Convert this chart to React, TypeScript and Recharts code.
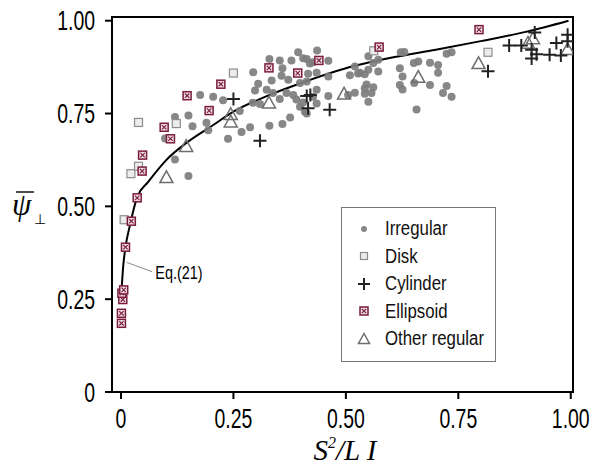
import React from "react";
import {
  ComposedChart,
  XAxis,
  YAxis,
  Scatter,
  Line,
  Legend,
  ReferenceArea,
  ReferenceLine,
  ReferenceDot,
} from "recharts";

const FONT = "'Liberation Sans', 'DejaVu Sans', sans-serif";
const SERIF = "'Liberation Serif', 'DejaVu Serif', serif";

// tick positions on both axes
const xTicks = [0, 0.25, 0.5, 0.75, 1];
const yTicks = [0, 0.25, 0.5, 0.75, 1];

// [S^2/LI, psi]
const irregular: [number, number][] = [
  [0.098, 0.683], [0.12, 0.741], [0.12, 0.626], [0.15, 0.582], [0.15, 0.745], [0.159, 0.716],
  [0.176, 0.8], [0.19, 0.725], [0.194, 0.705], [0.205, 0.795], [0.227, 0.786], [0.238, 0.682],
  [0.264, 0.757], [0.268, 0.7], [0.287, 0.713], [0.293, 0.779], [0.309, 0.776], [0.294, 0.861],
  [0.298, 0.812], [0.305, 0.83], [0.33, 0.717], [0.33, 0.897], [0.335, 0.839], [0.338, 0.805],
  [0.324, 0.814], [0.353, 0.893], [0.353, 0.789], [0.357, 0.852], [0.359, 0.872], [0.359, 0.722],
  [0.368, 0.805], [0.372, 0.841], [0.376, 0.739], [0.379, 0.893], [0.383, 0.8], [0.39, 0.788],
  [0.394, 0.915], [0.398, 0.832], [0.398, 0.768], [0.405, 0.78], [0.405, 0.899], [0.409, 0.755],
  [0.413, 0.897], [0.413, 0.836], [0.413, 0.75], [0.416, 0.857], [0.42, 0.885], [0.427, 0.888],
  [0.427, 0.795], [0.435, 0.86], [0.435, 0.814], [0.435, 0.777], [0.436, 0.92], [0.461, 0.892],
  [0.461, 0.85], [0.461, 0.797], [0.505, 0.8], [0.509, 0.853], [0.52, 0.877], [0.527, 0.858],
  [0.52, 0.806], [0.531, 0.86], [0.542, 0.856], [0.55, 0.868], [0.55, 0.904], [0.561, 0.886],
  [0.572, 0.895], [0.572, 0.863], [0.542, 0.818], [0.546, 0.828], [0.561, 0.821], [0.542, 0.803],
  [0.557, 0.805], [0.55, 0.782], [0.622, 0.915], [0.63, 0.916], [0.62, 0.872], [0.626, 0.85],
  [0.62, 0.827], [0.626, 0.815], [0.651, 0.886], [0.661, 0.89], [0.652, 0.832], [0.687, 0.887],
  [0.705, 0.881], [0.705, 0.86], [0.687, 0.827], [0.724, 0.824], [0.716, 0.805], [0.735, 0.795],
  [0.724, 0.911], [0.735, 0.915], [0.657, 0.761],
];

const disk: [number, number][] = [
  [0.007, 0.464], [0.022, 0.588], [0.039, 0.608], [0.039, 0.726], [0.123, 0.723],
  [0.25, 0.859], [0.562, 0.919], [0.816, 0.915],
];

const cylinder: [number, number][] = [
  [0.25, 0.789], [0.309, 0.677], [0.413, 0.797], [0.421, 0.8], [0.416, 0.764], [0.464, 0.76],
  [0.816, 0.864], [0.863, 0.933], [0.89, 0.933], [0.92, 0.968], [0.913, 0.922], [0.913, 0.898],
  [0.924, 0.91], [0.953, 0.908], [0.968, 0.94], [0.978, 0.906], [0.993, 0.945], [0.993, 0.962],
];

const ellipsoid: [number, number][] = [
  [0.001, 0.185], [0.001, 0.212], [0.004, 0.249], [0.002, 0.266], [0.006, 0.275], [0.01, 0.39],
  [0.023, 0.46], [0.036, 0.523], [0.047, 0.595], [0.048, 0.638], [0.096, 0.713], [0.11, 0.682],
  [0.147, 0.798], [0.196, 0.758], [0.222, 0.829], [0.329, 0.873], [0.393, 0.859], [0.44, 0.893],
  [0.574, 0.929], [0.796, 0.976],
];

const otherRegular: [number, number][] = [
  [0.101, 0.578], [0.145, 0.662], [0.244, 0.728], [0.244, 0.748], [0.329, 0.779], [0.496, 0.803],
  [0.661, 0.848], [0.795, 0.885], [0.905, 0.94], [0.916, 0.952], [0.993, 0.923],
];

// Eq.(21) curve
const eqX = [0.001, 0.005, 0.01, 0.02, 0.036, 0.06, 0.1, 0.15, 0.2, 0.25, 0.32, 0.4, 0.5, 0.6, 0.7, 0.8, 0.9, 0.995];
const eqY = [0.27, 0.34, 0.39, 0.45, 0.525, 0.565, 0.624, 0.675, 0.715, 0.755, 0.795, 0.832, 0.872, 0.9, 0.922, 0.945, 0.97, 1.0];

const toPts = (arr: [number, number][]) => arr.map(([x, y]) => ({ x, y }));
const curve = eqX.map((x, i) => ({ x, y: eqY[i] }));

const fmt = (v: number) => (v === 0 ? "0" : v.toFixed(2));

// no condensed font installed, so squeeze regular text horizontally
const CondText = ({ x, y, anchor = "start", size, sx = 0.72, dy = "0", children }: any) => (
  <g transform={`translate(${x},${y}) scale(${sx},1)`}>
    <text x={0} y={0} dy={dy} textAnchor={anchor} fontSize={size} fontFamily={FONT} fill="#000">
      {children}
    </text>
  </g>
);

const XTick = ({ x, y, payload }: any) => (
  <CondText x={x} y={y} anchor="middle" size={27} dy="0.71em">
    {fmt(payload.value)}
  </CondText>
);
const YTick = ({ x, y, payload }: any) => (
  <CondText x={x} y={y} anchor="end" size={27} dy="0.36em">
    {fmt(payload.value)}
  </CondText>
);

const DotMark = ({ cx, cy, r = 4 }: any) => <circle cx={cx} cy={cy} r={r} fill="#7d7d7d" fillOpacity={0.92} />;
const DiskMark = ({ cx, cy, s = 8 }: any) => (
  <rect x={cx - s / 2} y={cy - s / 2} width={s} height={s} fill="#ececec" stroke="#8c8c8c" strokeWidth={1.2} />
);
const PlusMark = ({ cx, cy, s = 6.5 }: any) => (
  <path d={`M${cx - s},${cy}H${cx + s}M${cx},${cy - s}V${cy + s}`} stroke="#222" strokeWidth={2} fill="none" />
);
const EllMark = ({ cx, cy, s = 8 }: any) => {
  const h = s / 2;
  const k = h - 1.8;
  return (
    <g>
      <rect x={cx - h} y={cy - h} width={s} height={s} fill="#eedde3" stroke="#7b1c3e" strokeWidth={1.5} />
      <path d={`M${cx - k},${cy - k}L${cx + k},${cy + k}M${cx + k},${cy - k}L${cx - k},${cy + k}`} stroke="#7b1c3e" strokeWidth={1.1} />
    </g>
  );
};
const TriMark = ({ cx, cy, s = 6.5 }: any) => (
  <polygon
    points={`${cx},${cy - s} ${cx + s},${cy + s * 0.8} ${cx - s},${cy + s * 0.8}`}
    fill="none"
    stroke="#6e6e6e"
    strokeWidth={1.5}
  />
);

const legendItems = [
  { name: "Irregular", icon: (c: number) => <DotMark cx={c} cy={c} r={3} /> },
  { name: "Disk", icon: (c: number) => <DiskMark cx={c} cy={c} s={7} /> },
  { name: "Cylinder", icon: (c: number) => <PlusMark cx={c} cy={c} s={6} /> },
  { name: "Ellipsoid", icon: (c: number) => <EllMark cx={c} cy={c} s={8} /> },
  { name: "Other regular", icon: (c: number) => <TriMark cx={c} cy={c} s={5.5} /> },
];

const renderLegend = () => (
  <div
    style={{
      width: 155,
      height: 155,
      boxSizing: "border-box",
      border: "1px solid #777",
      background: "#fff",
      paddingTop: 7,
    }}
  >
    {legendItems.map((it) => (
      <div key={it.name} style={{ display: "flex", alignItems: "center", height: 27.5, whiteSpace: "nowrap" }}>
        <svg width={16} height={16} style={{ marginLeft: 14, marginRight: 13, flexShrink: 0 }}>
          {it.icon(8)}
        </svg>
        <span
          style={{
            fontFamily: FONT,
            fontSize: 20,
            color: "#111",
            display: "inline-block",
            transform: "scaleX(0.84)",
            transformOrigin: "left center",
          }}
        >
          {it.name}
        </span>
      </div>
    ))}
  </div>
);

export default function App() {
  return (
    <div style={{ position: "absolute", left: 0, top: 0, width: 595, height: 465, background: "#fff" }}>
      <ComposedChart width={595} height={465} margin={{ top: 17, right: 22, left: 0, bottom: 0 }}>
        <XAxis
          dataKey="x"
          type="number"
          domain={[-0.02, 1.005]}
          allowDataOverflow
          ticks={xTicks}
          height={73}
          tickSize={7}
          tickMargin={10}
          axisLine={false}
          tickLine={{ stroke: "#000", strokeWidth: 2 }}
          tick={XTick}
          label={{
            content: () => (
              <text x={345} y={460} textAnchor="middle" fontFamily={SERIF} fontStyle="italic" fontSize={29} fill="#000">
                <tspan>S</tspan>
                <tspan fontSize={16} dy={-12}>2</tspan>
                <tspan dy={12}>/L I</tspan>
              </text>
            ),
          }}
        />
        <YAxis
          dataKey="y"
          type="number"
          domain={[0, 1.01]}
          allowDataOverflow
          ticks={yTicks}
          width={112}
          tickSize={7}
          tickMargin={10}
          axisLine={false}
          tickLine={{ stroke: "#000", strokeWidth: 2 }}
          tick={YTick}
          label={{
            content: () => (
              <g>
                <text x={12} y={215} fontFamily={SERIF} fontStyle="italic" fontSize={31} fill="#000">
                  ψ
                </text>
                <line x1={16} x2={34} y1={192} y2={192} stroke="#000" strokeWidth={1.4} />
                <text x={34} y={224} fontFamily="'DejaVu Sans', sans-serif" fontSize={14} fill="#000">
                  ⊥
                </text>
              </g>
            ),
          }}
        />
        <ReferenceArea x1={-0.02} x2={1.005} y1={0} y2={1.01} fill="none" stroke="#000" strokeWidth={2} />
        <Scatter name="Irregular" data={toPts(irregular)} shape={(p: any) => <DotMark cx={p.cx} cy={p.cy} />} isAnimationActive={false} />
        <Scatter name="Disk" data={toPts(disk)} shape={(p: any) => <DiskMark cx={p.cx} cy={p.cy} />} isAnimationActive={false} />
        <Scatter name="Ellipsoid" data={toPts(ellipsoid)} shape={(p: any) => <EllMark cx={p.cx} cy={p.cy} />} isAnimationActive={false} />
        <Scatter name="Other regular" data={toPts(otherRegular)} shape={(p: any) => <TriMark cx={p.cx} cy={p.cy} />} isAnimationActive={false} />
        <Scatter name="Cylinder" data={toPts(cylinder)} shape={(p: any) => <PlusMark cx={p.cx} cy={p.cy} />} isAnimationActive={false} />
        <Line
          data={curve}
          dataKey="y"
          type="monotone"
          stroke="#000"
          strokeWidth={2}
          dot={false}
          activeDot={false}
          legendType="none"
          isAnimationActive={false}
        />
        <ReferenceLine
          segment={[{ x: 0.013, y: 0.349 }, { x: 0.069, y: 0.324 }]}
          stroke="#8a8a8a"
          strokeWidth={1}
        />
        <ReferenceDot
          x={0.074}
          y={0.322}
          r={0}
          fill="none"
          stroke="none"
          label={{
            content: ({ viewBox }: any) => (
              <CondText x={viewBox.x + 1} y={viewBox.y} size={19} sx={0.76} dy="0.36em">
                Eq.(21)
              </CondText>
            ),
          }}
        />
        <Legend
          layout="vertical"
          align="center"
          verticalAlign="middle"
          content={renderLegend}
          wrapperStyle={{ left: 341, top: 207, width: 155, height: 155 }}
        />
      </ComposedChart>
    </div>
  );
}
